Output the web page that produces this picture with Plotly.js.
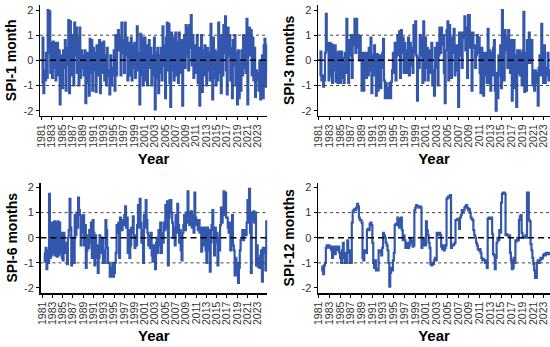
<!DOCTYPE html>
<html>
<head>
<meta charset="utf-8">
<script src="https://cdn.plot.ly/plotly-3.0.1.min.js"></script>
<style>html,body{margin:0;padding:0;background:#fff}#chart{width:550px;height:347px}</style>
</head>
<body>
<div id="chart"></div>
<script>
// ---- data (6 values per year, 1981 .. 2024) ----
const startYear = 1981;
const stepsPerYear = 6;
const tickYears = [1981,1983,1985,1987,1989,1991,1993,1995,1997,1999,2001,2003,2005,2007,2009,2011,2013,2015,2017,2019,2021,2023];
const tickLabels = ["1981","1983","1985","1987","1989","1991","1993","1995","1997","1999","2001","2003","2005","2007","2009","2011","2013","2015","2017","2019","2021","2023"];
const yTickVals = [-2,-1,0,1,2];
const yTickText = ["-2","-1","0","1","2"];
const panelTitles = ["SPI-1 month","SPI-3 months","SPI-6 months","SPI-12 months"];

const spi1 = [
-0.9,0.9,-1.3,-0.4,-0.8,0.3,
-0.7,2.0,0.3,1.95,-0.5,0.7,
-0.7,0.75,-0.3,0.7,-0.8,0.5,
0.7,-0.6,0.4,-1.75,0.2,-0.9,
-1.1,0.4,-0.3,0.8,-1.2,-0.2,
0.5,1.6,-1.3,1.55,-0.6,0.2,
1.0,-1.0,1.5,0.2,1.3,-0.5,
0.9,-1.0,1.3,-0.7,0.4,-0.3,
0.2,-0.6,0.4,-1.7,0.3,-0.9,
0.3,-1.4,0.85,-0.5,0.8,-1.2,
0.5,-0.4,0.3,-1.25,0.6,-0.6,
-0.2,0.8,-1.3,0.7,-0.5,0.3,
0.75,-0.8,0.2,-1.0,0.5,-0.4,
-0.6,-1.35,0.2,-1.0,-0.3,-0.6,
0.4,-1.2,1.0,-0.6,0.7,1.2,
0.4,0.9,-0.6,1.5,0.3,0.8,
-0.5,1.5,0.2,0.9,-0.8,0.4,
0.7,-0.6,0.9,-0.8,0.6,-0.3,
0.7,-0.7,0.2,1.35,-0.4,0.3,
-1.75,1.05,-0.6,0.9,-1.0,0.5,
0.9,-0.8,0.6,-1.0,0.4,0.8,
-0.3,0.5,-1.0,0.2,-0.6,0.9,
-1.95,0.3,-0.7,0.5,-1.3,0.2,
-0.5,0.5,-0.8,1.35,-0.2,0.6,
-1.5,0.9,1.5,-0.4,1.45,-0.9,
-1.85,1.1,-0.4,0.9,-0.8,0.6,
1.1,-0.6,0.7,-0.9,1.1,0.2,
-0.5,0.8,-1.8,0.4,1.0,-0.3,
1.4,0.2,1.3,-0.4,1.4,0.5,
1.8,-0.2,1.0,-0.7,0.6,0.1,
-0.5,1.0,-0.9,0.5,-1.8,0.3,
1.0,-1.25,0.4,-0.6,0.6,-0.3,
-1.0,0.5,-0.4,0.3,-0.8,1.45,
0.6,-1.55,0.9,-0.7,0.4,-1.0,
0.3,-0.8,1.5,-0.5,0.9,-1.3,
1.0,-0.6,1.4,0.3,1.75,-0.4,
-1.35,1.3,0.2,1.0,-0.8,0.5,
-1.5,0.8,-0.2,1.0,-1.0,0.3,
-1.75,0.4,-1.5,-0.1,-1.2,0.4,
-0.6,1.0,-0.3,0.9,-0.5,1.65,
-1.75,0.8,1.3,0.2,1.2,-0.6,
0.9,-0.8,0.5,-1.45,-0.4,-0.8,
-0.5,-1.2,0.0,-1.55,-0.6,0.2,
-1.5,0.6,0.85,-1.05,0.6,-0.4
];

const spi3 = [
null,-0.6,0.35,-0.8,-0.6,-1.05,
-0.8,0.3,1.85,0.4,0.7,-0.8,
0.7,-0.6,0.65,-0.9,0.6,-0.4,
0.6,-0.85,0.3,-0.9,0.35,-0.6,
-0.9,0.35,-0.7,0.1,-0.9,0.3,
-0.5,1.65,0.4,-0.9,0.8,0.2,
1.0,-0.7,0.6,1.0,1.65,0.3,
1.65,0.5,1.0,0.0,0.95,0.2,
-1.2,0.3,-1.2,-0.3,0.3,-0.7,
0.3,-0.6,0.5,-0.4,0.9,-1.3,
0.2,-0.6,0.6,-0.3,-1.4,0.25,
-1.2,-0.4,0.2,-1.1,-0.3,0.3,
0.85,-0.8,-1.5,-0.9,-1.5,-1.1,
-1.5,-0.9,-1.5,-0.85,-0.4,0.3,
-0.5,0.7,-0.8,0.3,1.0,0.2,
1.15,-0.7,1.2,0.3,0.9,-0.5,
0.7,0.1,-0.5,0.4,0.9,-0.6,
0.7,-0.2,0.5,-0.5,1.4,0.3,
1.55,0.2,-1.6,0.1,-0.3,1.0,
0.2,0.9,-0.9,1.55,-0.8,0.9,
-0.3,0.5,-0.8,-0.2,0.4,-0.5,
0.7,-1.0,-0.4,-1.4,0.5,-0.3,
0.7,-1.0,0.2,1.3,0.3,1.3,
0.6,1.0,-0.5,-1.7,0.4,1.2,
1.55,-0.8,1.4,0.3,-0.7,0.9,
0.3,1.25,-0.6,0.2,0.6,-0.4,
-1.85,1.1,0.2,1.1,-0.3,0.9,
1.1,1.75,0.4,1.3,-0.7,1.8,
1.8,0.5,1.1,-1.2,1.1,0.5,
0.6,-0.3,0.2,1.0,0.3,0.9,
-0.5,-1.3,0.5,-0.6,-1.4,0.3,
-0.6,0.3,-0.9,1.25,-0.9,0.4,
-1.2,0.3,-0.6,0.5,0.8,-1.2,
-2.0,-0.5,-1.5,0.2,-0.6,0.6,
-1.1,2.0,0.9,-0.8,1.2,0.4,
0.9,-0.3,1.2,0.4,-0.5,0.8,
-1.6,0.3,0.8,-1.1,0.2,-1.85,
0.4,-0.5,0.4,-0.6,0.3,-1.0,
0.4,1.93,-1.25,0.3,-1.2,0.8,
-0.1,1.1,0.5,-0.1,0.8,-1.0,
-0.4,-1.2,-0.4,-0.9,-0.5,-1.8,
-0.3,0.2,-0.6,1.45,0.6,-0.9,
0.6,-0.9,-0.3,-0.6,0.3,-0.8,
-0.4,-0.8,0.2,-1.0,0.5,-0.5
];

const spi6 = [
null,null,-0.6,-0.95,-0.4,-1.25,
-0.5,-1.0,1.75,-0.8,0.6,-0.7,
0.6,-0.6,0.65,-0.7,0.6,-0.75,
0.65,-0.7,0.6,-0.6,0.2,-0.8,
-0.9,0.2,-0.3,-0.6,-0.2,-1.05,
0.0,0.3,1.55,0.4,-1.1,-0.4,
0.0,-1.0,0.9,0.1,1.0,0.4,
1.6,1.1,0.9,-0.3,0.85,0.2,
0.9,-0.3,0.5,-1.2,-0.5,0.1,
-0.4,0.3,-0.2,0.6,-0.8,0.7,
0.2,-1.1,0.1,-0.8,-0.3,-1.4,
-0.8,0.1,-0.3,-0.6,0.0,-1.0,
-0.5,-1.0,0.7,0.3,-0.4,-1.0,
-1.0,-1.55,-1.2,-1.55,-1.0,-1.55,
-1.4,-1.0,-0.6,0.5,0.2,0.6,
-0.8,0.8,0.5,0.3,0.7,0.5,
0.9,1.25,0.4,0.8,-0.6,0.3,
-0.8,-0.3,0.4,0.2,0.85,0.0,
-0.4,0.1,-0.3,0.5,1.3,0.4,
1.55,0.6,-0.2,0.3,-1.0,0.9,
0.4,1.5,0.7,0.2,-0.3,0.1,
-0.4,0.2,-0.7,-0.95,-0.3,-0.6,
-1.25,-0.2,0.0,-0.6,0.3,-0.3,
0.6,-0.6,0.2,-0.2,0.6,0.3,
1.3,0.4,1.45,-1.1,0.8,1.5,
1.5,1.0,0.6,0.0,0.4,-0.3,
0.9,0.2,1.35,0.5,-0.2,0.3,
-0.5,-0.9,0.2,0.5,0.9,0.3,
1.0,0.6,1.85,1.0,0.5,1.0,
1.05,0.4,0.9,0.2,1.8,0.8,
0.5,0.7,0.3,0.7,0.2,0.4,
-0.55,0.0,0.4,-0.3,0.4,-0.5,
-1.0,0.4,-0.5,0.3,-1.35,-0.2,
0.5,1.1,0.3,-0.7,0.4,-0.2,
0.2,-1.1,0.0,-0.5,0.5,1.2,
0.6,1.0,1.85,0.9,1.8,0.8,
0.8,0.4,0.2,0.6,-0.5,0.2,
0.9,-0.3,-0.5,-1.5,-0.8,-1.5,
-1.0,-1.8,-1.2,-0.5,-0.1,0.0,
0.3,-0.1,0.2,0.3,0.1,0.6,
1.5,0.6,1.95,0.2,-1.4,1.0,
0.7,1.05,0.6,1.0,-1.1,-0.3,
-1.15,-0.8,-1.2,-0.7,-0.5,-1.75,
-0.4,-0.6,-0.4,-1.3,0.65,-0.7
];

const spi12 = [
null,null,null,-1.15,-1.3,-1.45,
-1.1,-1.0,-0.4,-0.3,-0.35,-0.3,
-0.4,-0.35,-0.5,-0.8,-0.35,-0.4,
-0.65,-0.35,-0.4,-0.5,-0.35,-0.6,
-0.8,-1.0,-0.5,-0.2,-0.8,-1.0,
-0.6,-1.0,-0.1,-0.6,-0.5,-1.0,
-1.0,0.6,1.05,1.1,1.15,1.1,
1.2,1.35,1.25,0.8,0.7,0.7,
0.6,-0.8,-0.9,-0.5,-0.5,-0.6,
0.3,0.35,0.3,0.55,0.6,0.5,
-0.2,-1.0,-1.2,-0.9,-1.3,-1.25,
-1.3,-0.5,-0.55,-0.5,-0.7,-0.4,
0.2,0.1,0.0,-0.2,-0.3,-0.5,
-1.0,-1.95,-1.4,-1.2,-1.3,-0.9,
-0.6,0.5,0.55,0.5,0.8,0.75,
0.4,0.75,0.8,0.3,-0.1,0.1,
-0.1,-0.4,-0.3,-0.2,-0.4,-0.3,
0.0,-0.2,-0.1,-0.35,-0.3,1.1,
1.2,1.3,1.25,1.25,1.2,1.25,
1.2,-0.4,-0.3,0.0,-0.2,-0.3,
0.65,0.3,0.1,-0.2,-0.4,-1.05,
-1.1,-1.0,-1.05,-0.9,-0.8,-0.9,
0.2,0.15,0.1,0.2,0.1,-0.35,
-0.45,-0.3,-0.5,-0.4,-0.3,1.55,
1.6,1.65,1.6,1.7,-0.4,-0.3,
-0.3,-0.25,-0.2,0.7,0.7,0.75,
0.7,0.35,0.8,0.9,1.1,1.0,
1.1,1.2,1.25,1.3,1.2,1.1,
1.15,1.0,0.8,0.75,0.7,0.3,
0.1,0.0,-0.2,-0.3,-0.45,-0.5,
-0.45,-0.6,-0.8,-0.9,-0.85,-0.9,
-1.0,-0.9,-1.2,0.75,0.8,0.8,
0.75,0.8,0.15,-0.65,-0.7,-1.25,
-0.8,-0.2,0.0,-0.1,0.3,0.2,
1.4,1.75,1.8,1.8,1.75,0.1,
0.15,0.1,0.05,0.1,-0.6,-0.9,
-1.25,-1.2,-0.8,-1.0,-0.1,-0.15,
0.0,-0.1,0.7,0.85,0.9,0.2,
0.0,0.05,0.0,0.1,0.0,1.8,
1.8,0.7,0.65,-0.25,-0.5,-0.8,
-1.05,-1.3,-1.6,-1.6,-1.0,-0.9,
-1.0,-0.9,-0.8,-0.85,-0.8,-0.7,
-0.65,-0.7,-0.6,-0.65,-0.6,-0.6,
-0.65,-0.6,-0.7,-0.6,-0.65,-0.6
];

// ---- chart ----
const W = 550, H = 347;
const FONT = "Liberation Sans, Arial, sans-serif";
const lineColor = "#3457ae";
const series = [spi1, spi3, spi6, spi12];

function timeAxis(vals) {
  return vals.map((v, i) => startYear + i / stepsPerYear);
}

// panel boxes in pixels: [left, right, top, bottom]
const boxes = [
  [40, 267.2, 5, 115.7],
  [318, 550, 5, 115.7],
  [40.5, 267.2, 182.5, 293],
  [318, 550, 182.5, 293]
];
const xRanges = [
  [1980.67, 2024.85],
  [1980.87, 2024.12],
  [1980.67, 2024.85],
  [1980.87, 2024.12]
];

const traces = [];
const layout = {
  width: W, height: H,
  margin: {l: 0, r: 0, t: 0, b: 0},
  paper_bgcolor: "#fff", plot_bgcolor: "#fff",
  showlegend: false,
  font: {family: FONT, color: "#333"},
  shapes: []
};

series.forEach((vals, k) => {
  const n = k + 1;
  const xa = "x" + (n === 1 ? "" : n), ya = "y" + (n === 1 ? "" : n);
  traces.push({
    type: "scatter", mode: "lines",
    x: timeAxis(vals), y: vals,
    xaxis: xa, yaxis: ya,
    line: {color: lineColor, width: 2.2, shape: "hv"},
    connectgaps: false, hoverinfo: "skip"
  });
  const b = boxes[k];
  const axKeyX = "xaxis" + (n === 1 ? "" : n);
  const axKeyY = "yaxis" + (n === 1 ? "" : n);
  layout[axKeyX] = {
    domain: [b[0] / W, b[1] / W],
    anchor: ya,
    range: xRanges[k],
    tickmode: "array", tickvals: tickYears, ticktext: tickLabels,
    tickangle: -90,
    tickfont: {size: 10.5, family: FONT, color: "#333"},
    ticks: "outside", ticklen: 3, tickwidth: 1, tickcolor: "#000",
    showline: true, linecolor: "#000", linewidth: 1.5,
    showgrid: false, zeroline: false, automargin: false,
    title: {text: "Year", font: {size: 15, family: FONT, color: "#000", weight: "bold"}, standoff: 6}
  };
  layout[axKeyY] = {
    domain: [1 - b[3] / H, 1 - b[2] / H],
    anchor: xa,
    range: [-2.2, 2.2],
    tickmode: "array", tickvals: yTickVals, ticktext: yTickText,
    tickfont: {size: 11, family: FONT, color: "#333"},
    ticks: "outside", ticklen: 3, tickwidth: 1, tickcolor: "#000",
    showline: true, linecolor: "#000", linewidth: 1.5,
    showgrid: false, zeroline: false, automargin: false,
    title: {text: panelTitles[k], font: {size: 14, family: FONT, color: "#000", weight: "bold"}, standoff: 3}
  };
  const xd = (n === 1 ? "x" : "x" + n) + " domain";
  [1, -1].forEach(v => layout.shapes.push({
    type: "line", xref: xd, yref: ya, x0: 0, x1: 1, y0: v, y1: v,
    line: {color: "#444", width: 1, dash: "dot"}, layer: "above"
  }));
  layout.shapes.push({
    type: "line", xref: xd, yref: ya, x0: 0, x1: 1, y0: 0, y1: 0,
    line: {color: "#000", width: 1.5, dash: "6px,4px"}, layer: "above"
  });
});

Plotly.newPlot("chart", traces, layout, {staticPlot: true, displayModeBar: false});
</script>
</body>
</html>
